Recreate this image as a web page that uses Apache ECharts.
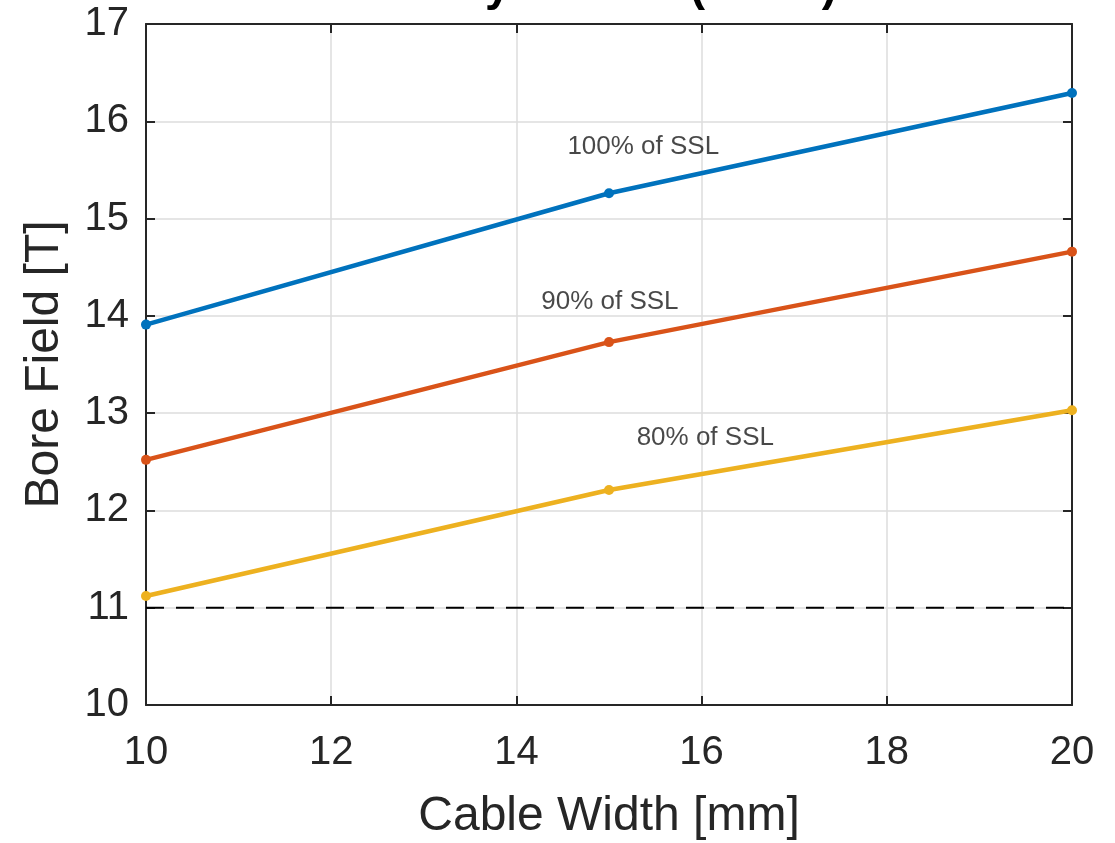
<!DOCTYPE html>
<html>
<head>
<meta charset="utf-8">
<script src="https://cdn.jsdelivr.net/npm/echarts@6/dist/echarts.min.js"></script>
<style>
  html, body { margin: 0; padding: 0; background: #fff; }
  #chart { width: 1115px; height: 843px; }
</style>
</head>
<body>
<div id="chart"></div>
<script>
// Cable widths [mm] and bore field [T] at each fraction of short-sample limit
const cableWidth = [10, 15, 20];
const field100 = [13.91, 15.26, 16.29];
const field90 = [12.52, 13.73, 14.66];
const field80 = [11.12, 12.21, 13.03];
const targetField = 11;

const xTicks = [10, 12, 14, 16, 18, 20];
const yTicks = [10, 11, 12, 13, 14, 15, 16, 17];

// Curve annotations: [x, y, text]
const curveLabels = [
  [15.37, 15.74, '100% of SSL'],
  [15.01, 14.14, '90% of SSL'],
  [16.04, 12.75, '80% of SSL']
];

const FONT = 'Liberation Sans, Arial, Helvetica, sans-serif';
const INK = '#262626';

const toPairs = (ys) => cableWidth.map((x, i) => [x, ys[i]]);

function curve(name, ys, color) {
  return {
    name, type: 'line', data: toPairs(ys),
    symbol: 'circle', symbolSize: 10, showSymbol: true,
    lineStyle: { color, width: 4.5 },
    itemStyle: { color },
    z: 5, silent: true
  };
}

const axisCommon = {
  type: 'value',
  axisLine: { show: true, onZero: false, lineStyle: { color: INK, width: 2 } },
  axisTick: { show: true, inside: true, length: 9, lineStyle: { color: INK, width: 2 } },
  splitLine: { show: false },
  axisLabel: { show: false }
};

const chart = echarts.init(document.getElementById('chart'));
chart.setOption({
  animation: false,
  backgroundColor: '#fff',
  title: {
    text: '4 Layer Case (Nb-Ti)',
    left: 610, textAlign: 'center', top: -41,
    textStyle: { fontFamily: FONT, fontSize: 46, fontWeight: 'bold', color: '#000' }
  },
  grid: { left: 146, right: 43, top: 24, bottom: 138, outerBoundsMode: 'none', containLabel: false },
  xAxis: [
    Object.assign({}, axisCommon, {
      position: 'bottom', min: xTicks[0], max: xTicks[xTicks.length - 1], interval: 2,
      splitLine: { show: true, lineStyle: { color: '#dcdcdc', width: 1.5 } },
      axisLabel: { show: true, fontFamily: FONT, fontSize: 40, color: INK, margin: 28 },
      name: 'Cable Width [mm]', nameLocation: 'middle', nameGap: 88,
      nameTextStyle: { fontFamily: FONT, fontSize: 48, color: INK }
    }),
    Object.assign({}, axisCommon, { position: 'top', min: xTicks[0], max: xTicks[xTicks.length - 1], interval: 2 })
  ],
  yAxis: [
    Object.assign({}, axisCommon, {
      position: 'left', min: yTicks[0], max: yTicks[yTicks.length - 1], interval: 1,
      splitLine: { show: true, lineStyle: { color: '#dcdcdc', width: 1.5 } },
      axisLabel: { show: true, fontFamily: FONT, fontSize: 40, color: INK, margin: 17 },
      name: 'Bore Field [T]', nameLocation: 'middle', nameGap: 77,
      nameTextStyle: { fontFamily: FONT, fontSize: 48, color: INK }
    }),
    Object.assign({}, axisCommon, { position: 'right', min: yTicks[0], max: yTicks[yTicks.length - 1], interval: 1 })
  ],
  series: [
    curve('100% of SSL', field100, '#0072BD'),
    curve('90% of SSL', field90, '#D95319'),
    curve('80% of SSL', field80, '#EDB120'),
    {
      name: 'target', type: 'line',
      data: [[xTicks[0], targetField], [xTicks[xTicks.length - 1], targetField]],
      symbol: 'none',
      lineStyle: { color: '#000', width: 2, type: [18, 12] },
      z: 4, silent: true
    },
    {
      name: 'labels', type: 'scatter',
      data: curveLabels.map(l => ({ value: [l[0], l[1]], name: l[2] })),
      symbolSize: 0,
      label: {
        show: true, position: 'inside', formatter: '{b}',
        fontFamily: FONT, fontSize: 26, color: '#1a1a1a'
      },
      z: 6, silent: true
    }
  ]
});
</script>
</body>
</html>
